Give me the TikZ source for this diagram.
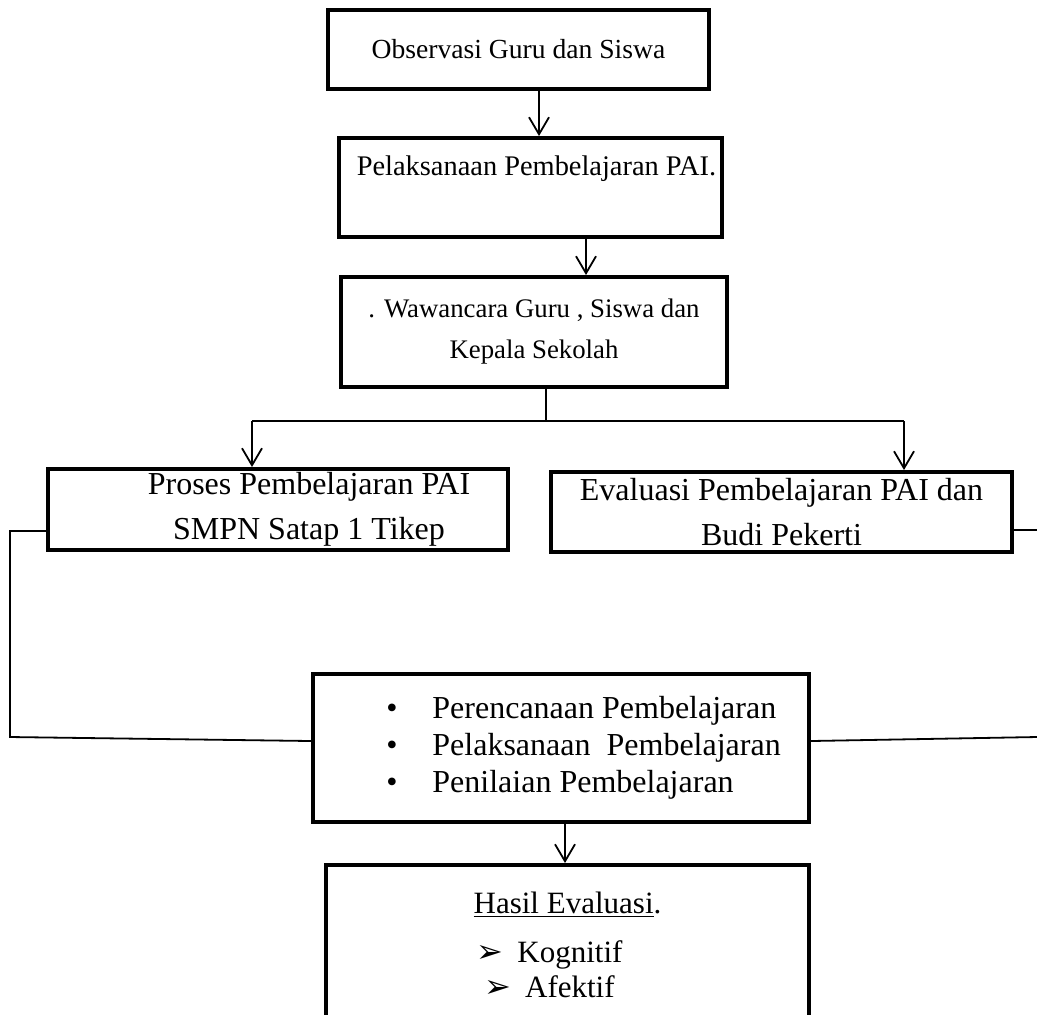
\documentclass[tikz,border=0pt]{standalone}
\usepackage{fontspec}
\setmainfont{Liberation Serif}
\newfontfamily\panahfont{DejaVu Sans}
\usetikzlibrary{arrows.meta}
\begin{document}
\begin{tikzpicture}[x=0.5pt, y=-0.5pt,
		kotak/.style={draw, line width=2pt, rectangle, inner sep=0pt, align=center, font=\fontsize{13.8}{20}\selectfont},
		garis/.style={line width=0.9pt},
		panah/.style={garis, -{Straight Barb[length=8.5pt, width=10pt]}}]
	\useasboundingbox (0,0) rectangle (1037,1014);
	\clip (0,0) rectangle (1037,1014);
	\node[kotak, minimum width=190.5pt, minimum height=39.5pt] (obs) at (518.5, 49.5) {Observasi Guru dan Siswa};
	\node[kotak, minimum width=191.5pt, minimum height=49.5pt, text height=10pt, text depth=22pt, font=\fontsize{14.2}{20}\selectfont] (pel) at (530.5, 187.5) {\hspace*{6pt}Pelaksanaan Pembelajaran PAI.};
	\node[kotak, minimum width=193pt, minimum height=55pt, font=\fontsize{13.4}{20.5}\selectfont] (wcr) at (534, 332) {. Wawancara Guru , Siswa dan\\Kepala Sekolah};
	\node[kotak, minimum width=230pt, minimum height=40.5pt, font=\fontsize{16}{22.5}\selectfont] (pro) at (278, 509.5) {\hspace*{31pt}Proses Pembelajaran PAI\\\hspace*{31pt}SMPN Satap 1 Tikep};
	\node[kotak, minimum width=230.5pt, minimum height=40pt, font=\fontsize{16}{22.5}\selectfont] (eva) at (781.5, 512) {Evaluasi Pembelajaran PAI dan\\Budi Pekerti};
	\node[kotak, minimum width=248pt, minimum height=74pt, font=\fontsize{16}{18.5}\selectfont] (rpp) at (561, 748) {\hspace*{22.5pt}\begin{tabular}{@{}l@{\hspace{17.5pt}}l@{}}
			\textbullet & Perencanaan Pembelajaran\\
			\textbullet & Pelaksanaan\ \ Pembelajaran\\
			\textbullet & Penilaian Pembelajaran
		\end{tabular}};
	\node[kotak, minimum width=241.5pt, minimum height=80pt, font=\fontsize{15.5}{17.5}\selectfont] (hasil) at (567.5, 945) {\underline{Hasil Evaluasi}.\\[7pt]
		{\panahfont\fontsize{16}{16}\selectfont ➢}\hspace{7pt}Kognitif\hspace*{18pt}\mbox{}\\
		{\panahfont\fontsize{16}{16}\selectfont ➢}\hspace{7pt}Afektif\hspace*{18pt}\mbox{}};
	\coordinate (p1) at ([xshift=10.25pt]obs.south);
	\coordinate (p2) at ([xshift=27.75pt]pel.south);
	\coordinate (p3) at ([xshift=2pt]rpp.south);
	\coordinate (tengah) at (546, 421);
	\coordinate (kirit) at (252, 421);
	\coordinate (kanant) at (904, 421);
	\coordinate (ki1) at (10, 531);
	\coordinate (ki2) at (10, 737);
	\coordinate (ki3) at (313, 741);
	\coordinate (ka1) at (1037, 530);
	\coordinate (ka2) at (1037, 737);
	\coordinate (ka3) at (809, 741);
	\draw[panah] (p1) -- (p1 |- pel.north);
	\draw[panah] (p2) -- (p2 |- wcr.north);
	\draw[garis] (wcr.south -| tengah) -- (tengah);
	\draw[garis] (kirit) -- (kanant);
	\draw[panah] (kirit) -- (kirit |- pro.north);
	\draw[panah] (kanant) -- (kanant |- eva.north);
	\draw[garis] (pro.west |- ki1) -- (ki1) -- (ki2) -- (rpp.west |- ki3);
	\draw[garis] (eva.east |- ka1) -- (ka1);
	\draw[garis] (rpp.east |- ka3) -- (ka2);
	\draw[panah] (p3) -- (p3 |- hasil.north);
\end{tikzpicture}
\end{document}
